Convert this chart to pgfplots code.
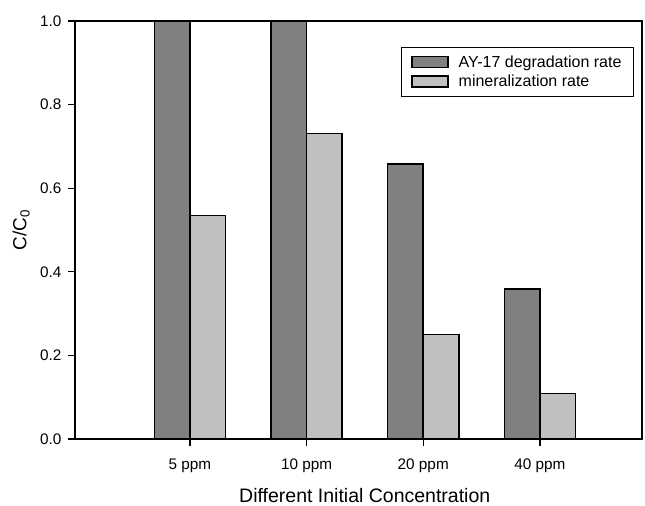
\documentclass[border=0pt]{standalone}
\usepackage{fontspec}
\setmainfont{Liberation Sans}
\usepackage{pgfplots}
\pgfplotsset{compat=1.18}
\usetikzlibrary{calc}
\definecolor{darkbar}{RGB}{128,128,128}
\definecolor{lightbar}{RGB}{192,192,192}
\begin{document}
\begin{tikzpicture}
\begin{axis}[
  width=567bp, height=418bp, scale only axis,
  xmin=0.015, xmax=4.875, ymin=0, ymax=1,
  xtick={1,2,3,4}, xticklabels={5 ppm,10 ppm,20 ppm,40 ppm},
  ytick={0,0.2,0.4,0.6,0.8,1.0},
  /pgf/number format/assume math mode=true,
  /pgf/number format/fixed, /pgf/number format/fixed zerofill, /pgf/number format/precision=1,
  ticklabel style={font=\fontsize{15.3bp}{18bp}\selectfont, black},
  xticklabel style={yshift=-9bp},
  yticklabel style={xshift=-3bp},
  tick align=outside, xtick pos=bottom, ytick pos=left,
  major tick length=7bp,
  tick style={black, line width=1.2bp},
  axis line style={black, line width=1.4bp},
  every axis x label/.style={at={(axis description cs:0.511,-0.136)}, anchor=center, font=\fontsize{19.5bp}{22bp}\selectfont},
  every axis y label/.style={at={(axis description cs:-0.095,0.5)}, rotate=90, anchor=center, font=\fontsize{19bp}{22bp}\selectfont},
  xlabel={Different Initial Concentration},
  ylabel={C/C\textsubscript{0}},
  ybar, bar width=0.305,
  every axis plot/.append style={line width=1.6bp},
  legend style={at={(rel axis cs:0.986,0.938)}, anchor=north east, draw=black, line width=1.2bp,
    font=\fontsize{16bp}{18bp}\selectfont, row sep=2.5bp, column sep=8bp, inner xsep=10bp, inner ysep=6bp},
  legend cell align=left,
  legend image code/.code={\draw[#1, line width=1.3bp] (0bp,-5.5bp) rectangle (36bp,5.5bp);},
]
\addplot[fill=darkbar, draw=black, line width=1.6bp, bar shift=-0.1525] coordinates {(1,1.0) (2,1.0) (3,0.658) (4,0.359)};
\addplot[fill=lightbar, draw=black, line width=1.6bp, bar shift=0.1525] coordinates {(1,0.535) (2,0.731) (3,0.250) (4,0.109)};
\legend{AY-17 degradation rate, mineralization rate}
\coordinate (sw) at (rel axis cs:0,0);
\coordinate (ne) at (rel axis cs:1,1);
\end{axis}
\pgfresetboundingbox
\path ($(sw)+(-75bp,-67bp)$) rectangle ($(ne)+(3bp,21bp)$);
\end{tikzpicture}
\end{document}
